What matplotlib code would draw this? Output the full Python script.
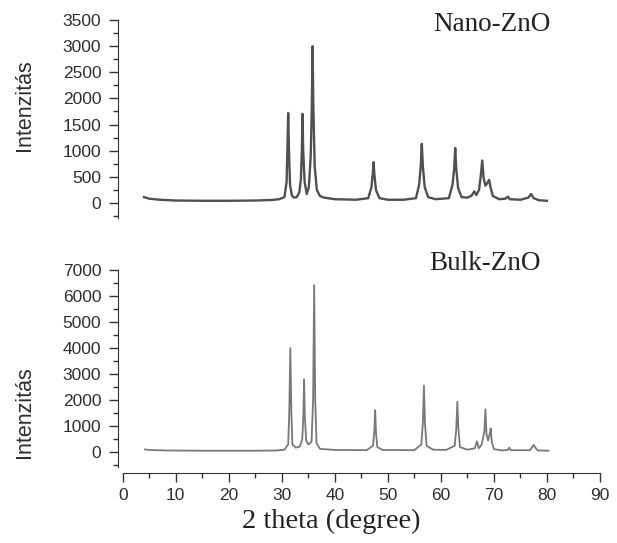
import matplotlib

matplotlib.use("Agg")
import matplotlib.pyplot as plt  # noqa: E402
from matplotlib.ticker import MultipleLocator  # noqa: E402

# XRD patterns: 2-theta (deg) and intensity
nano_x = [4.0, 5.0, 7.0, 10.0, 15.0, 20.0, 25.0, 28.0, 29.5, 30.5, 30.9, 31.05,
          31.2, 31.35, 31.55, 31.9, 32.3, 32.8, 33.3, 33.6, 33.78, 33.9, 34.03,
          34.3, 34.7, 35.1, 35.45, 35.65, 35.8, 35.95, 36.2, 36.6, 37.2, 38.0,
          40.0, 44.0, 46.3, 46.9, 47.15, 47.3, 47.45, 47.75, 48.4, 50.0, 53.0,
          55.3, 55.9, 56.2, 56.4, 56.6, 56.95, 57.6, 59.0, 61.5, 62.2, 62.5,
          62.7, 62.9, 63.25, 63.9, 65.0, 65.8, 66.3, 66.7, 67.2, 67.5, 67.8,
          68.05, 68.4, 68.75, 69.1, 69.35, 69.8, 71.0, 72.2, 72.6, 73.0, 75.0,
          76.5, 77.0, 77.5, 78.5, 80.0]
nano_y = [110, 80, 60, 45, 40, 40, 45, 55, 70, 110, 400, 1000,
          1720, 1000, 350, 140, 100, 110, 200, 450, 1000, 1705, 1000,
          400, 170, 300, 900, 1800, 3000, 1800, 700, 250, 130, 100,
          70, 60, 90, 300, 550, 780, 550, 250, 90, 60, 60,
          90, 350, 700, 1130, 700, 300, 110, 70, 90, 350, 650,
          1050, 650, 280, 110, 100, 140, 220, 150, 250, 500, 810,
          480, 330, 380, 440, 300, 130, 70, 80, 120, 70, 60,
          100, 170, 90, 50, 40]

bulk_x = [4.2, 5.0, 8.0, 15.0, 25.0, 29.0, 30.5, 31.2, 31.4, 31.6, 31.8, 32.0,
          32.6, 33.4, 33.85, 34.05, 34.2, 34.35, 34.6, 35.0, 35.6, 35.9, 36.1,
          36.3, 36.55, 37.2, 40.0, 46.0, 47.2, 47.45, 47.6, 47.75, 48.0, 49.0,
          55.0, 56.3, 56.6, 56.8, 57.0, 57.3, 58.5, 61.0, 62.6, 62.9, 63.1,
          63.3, 63.6, 65.0, 66.4, 66.8, 67.15, 67.7, 68.2, 68.4, 68.6, 68.9,
          69.2, 69.4, 69.6, 70.0, 71.5, 72.6, 72.9, 73.2, 76.8, 77.2, 77.5,
          77.8, 78.3, 80.3]
bulk_y = [110, 90, 70, 60, 60, 70, 100, 300, 1500, 4000, 1500, 300,
          180, 220, 500, 1300, 2800, 1300, 450, 300, 400, 2000, 6420,
          2000, 350, 130, 90, 80, 250, 800, 1620, 800, 200, 90,
          80, 300, 1100, 2560, 1100, 250, 100, 90, 250, 900, 1940,
          900, 200, 100, 150, 420, 150, 300, 800, 1650, 700, 450,
          700, 920, 400, 120, 70, 90, 180, 80, 80, 200, 280,
          180, 70, 60]

panels = [
    ("Nano-ZnO", nano_x, nano_y, (-290, 3500), 500),
    ("Bulk-ZnO", bulk_x, bulk_y, (-550, 7000), 1000),
]

SANS = "Liberation Sans"
SERIF = "Liberation Serif"
TICK_C = "#2e2e2e"

fig = plt.figure(figsize=(6.17, 5.43), dpi=100)
boxes = [[0.1912, 0.5985, 0.7812, 0.3646], [0.1912, 0.1407, 0.7812, 0.3621]]
label_pos = [(491.5 / 617, 0.943), (485 / 617, 0.503)]
ylab_y = [1 - 105 / 543, 1 - 412 / 543]
styles = [dict(color="#505050", lw=1.7), dict(color="#787878", lw=1.3)]

axes = []
for i, (name, xs, ys, ylim, step) in enumerate(panels):
    ax = fig.add_axes(boxes[i])
    ax.plot(xs, ys, **styles[i])
    ax.set_xlim(-0.9, 90)
    ax.set_ylim(*ylim)
    ax.yaxis.set_major_locator(MultipleLocator(step))
    ax.yaxis.set_minor_locator(MultipleLocator(step / 2))
    for s in ("top", "right"):
        ax.spines[s].set_visible(False)
    ax.spines["left"].set_color("#333333")
    ax.tick_params(axis="y", which="major", direction="out", length=6.5,
                   width=1.0, color="#333333", pad=5.5, labelsize=12.5,
                   labelcolor=TICK_C)
    ax.tick_params(axis="y", which="minor", direction="out", length=3.5,
                   width=1.0, color="#333333")
    for lab in ax.get_yticklabels():
        lab.set_fontfamily(SANS)
    fig.text(label_pos[i][0], label_pos[i][1], name, family=SERIF,
             fontsize=19.5, color="#222222", ha="center", va="baseline")
    fig.text(25 / 617, ylab_y[i], "Intenzitás", family=SANS, fontsize=15.5,
             color=TICK_C, rotation=90, ha="center", va="center")
    axes.append(ax)

top, bot = axes
top.spines["bottom"].set_visible(False)
top.tick_params(axis="x", which="both", bottom=False, labelbottom=False)

bot.spines["bottom"].set_position(("outward", 4.6))
bot.spines["bottom"].set_bounds(0, 90)
bot.spines["bottom"].set_color("#333333")
bot.xaxis.set_major_locator(MultipleLocator(10))
bot.xaxis.set_minor_locator(MultipleLocator(5))
bot.tick_params(axis="x", which="major", direction="out", length=6.5,
                width=1.0, color="#333333", pad=4, labelsize=12.5,
                labelcolor=TICK_C)
bot.tick_params(axis="x", which="minor", direction="out", length=3.5,
                width=1.0, color="#333333")
for lab in bot.get_xticklabels():
    lab.set_fontfamily(SANS)

fig.text(331.5 / 617, 1 - 528 / 543, "2 theta (degree)", family=SERIF,
         fontsize=20.5, color="#222222", ha="center", va="baseline")

fig.savefig("out.png", dpi=100)
plt.close(fig)
